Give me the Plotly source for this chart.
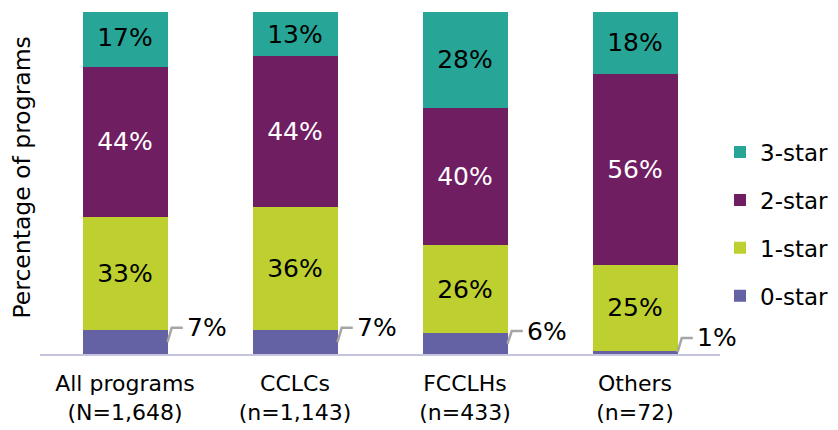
import plotly.graph_objects as go

categories = ["All programs<br>(N=1,648)", "CCLCs<br>(n=1,143)", "FCCLHs<br>(n=433)", "Others<br>(n=72)"]
star0 = [7, 7, 6, 1]
star1 = [33, 36, 26, 25]
star2 = [44, 44, 40, 56]
star3 = [17, 13, 28, 18]

series = [
    ("0-star", star0, "#6461a5", "black", False),
    ("1-star", star1, "#bdd02f", "black", True),
    ("2-star", star2, "#701e62", "white", True),
    ("3-star", star3, "#27a597", "black", True),
]

FONT = "DejaVu Sans"
fig = go.Figure()
xs = list(range(len(categories)))
for k, (name, vals, color, tcolor, show_text) in enumerate(series):
    fig.add_trace(go.Bar(
        x=xs, y=vals, name=name, marker_color=color, marker_line_width=0,
        text=[f"{v}%" for v in vals] if show_text else None,
        textposition="inside" if show_text else "none",
        insidetextanchor="middle",
        textfont=dict(family=FONT, size=25, color=tcolor),
        legendgroup=name, legendrank=len(series) - k, hoverinfo="skip",
    ))

# leader lines + labels for 0-star
for i, v in enumerate(star0):
    ly = max(v, 4) + 0.7
    x0 = i + 0.25
    fig.add_shape(type="path",
                  path=f"M {x0} {v/2} L {x0+0.025} {ly} L {x0+0.09} {ly}",
                  line=dict(color="#a6a6a6", width=2.5), xref="x", yref="y")
    fig.add_annotation(x=x0 + 0.1, y=ly, text=f"{v}%", showarrow=False,
                       xanchor="left", yanchor="middle",
                       font=dict(family=FONT, size=25, color="black"))

# y-axis title
fig.add_annotation(text="Percentage of programs", xref="paper", yref="paper",
                   x=-0.027, y=0.515, xanchor="center", yanchor="middle",
                   textangle=-90, showarrow=False,
                   font=dict(family=FONT, size=23.5, color="black"))

fig.update_layout(
    width=830, height=422,
    margin=dict(l=32, r=118, t=4, b=76, autoexpand=False),
    barmode="stack", bargap=0.5,
    plot_bgcolor="white", paper_bgcolor="white",
    font=dict(family=FONT, size=22, color="black"),
    showlegend=True,
    legend=dict(x=1.0, y=0.38, xanchor="left", yanchor="middle",
                traceorder="grouped", tracegroupgap=15,
                font=dict(family=FONT, size=23, color="black")),
    xaxis=dict(tickmode="array", tickvals=xs, ticktext=categories,
               range=[-0.5, 3.5], showline=True, linecolor="#c5c5e0", linewidth=2,
               ticks="", showgrid=False, zeroline=False, ticklabelstandoff=9,
               tickfont=dict(family=FONT, size=22, color="black")),
    yaxis=dict(range=[0, 100], showticklabels=False, showgrid=False,
               zeroline=False, showline=False, ticks=""),
)

fig.write_html("out.html")
